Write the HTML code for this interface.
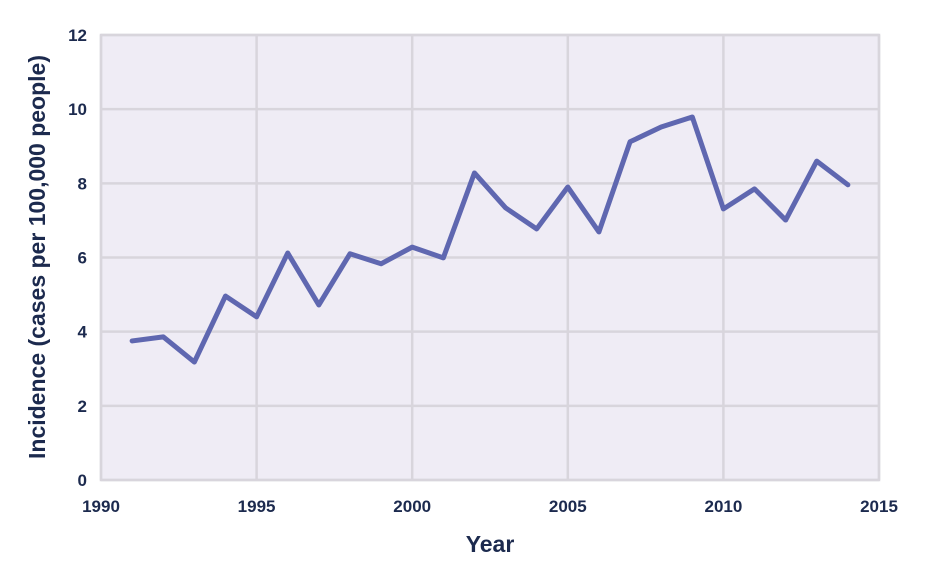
<!DOCTYPE html>
<html><head><meta charset="utf-8"><style>
body{margin:0;background:#fff;}
svg text{font-family:"Liberation Sans",sans-serif;font-weight:bold;fill:#1c2a4e;}
</style></head><body>
<svg id="chart" width="928" height="580" viewBox="0 0 928 580" xmlns="http://www.w3.org/2000/svg">
<rect x="101" y="35" width="778" height="445" fill="#efecf5" stroke="#d8d5dc" stroke-width="2.5"/>
<g id="grid"></g>
<g id="ticks"></g>
<path id="line" fill="none" stroke="#5f67b0" stroke-width="5" stroke-linejoin="round" stroke-linecap="round"/>
<text x="490" y="552" font-size="23" text-anchor="middle">Year</text>
<text transform="translate(45,257) rotate(-90)" font-size="23" text-anchor="middle">Incidence  (cases per 100,000 people)</text>
</svg>
<script>
const years=[1991,1992,1993,1994,1995,1996,1997,1998,1999,2000,2001,2002,2003,2004,2005,2006,2007,2008,2009,2010,2011,2012,2013,2014];
const values=[3.75,3.86,3.18,4.96,4.40,6.12,4.72,6.10,5.83,6.28,5.99,8.28,7.34,6.77,7.90,6.69,9.12,9.52,9.79,7.31,7.85,7.01,8.60,7.96];
const xTicks=[1990,1995,2000,2005,2010,2015];
const yTicks=[0,2,4,6,8,10,12];
const NS="http://www.w3.org/2000/svg";
const X=v=>101+(v-1990)*(778/25);
const Y=v=>480-v*(445/12);
const grid=document.getElementById('grid'),ticks=document.getElementById('ticks');
function mk(tag,attrs,parent){const e=document.createElementNS(NS,tag);for(const k in attrs)e.setAttribute(k,attrs[k]);parent.appendChild(e);return e;}
yTicks.forEach(t=>{
 const l=mk('line',{x1:101,x2:879,y1:Y(t),y2:Y(t),stroke:'#d8d5dc','stroke-width':2.5},grid);
 
 
 const tx=mk('text',{x:87,y:Y(t)+6,'font-size':17,'text-anchor':'end'},ticks);
 tx.textContent=t;
 
 
});
xTicks.forEach(t=>{
 const l=mk('line',{x1:X(t),x2:X(t),y1:35,y2:480,stroke:'#d8d5dc','stroke-width':2.5},grid);
 
 
 const tx=mk('text',{x:X(t),y:512,'font-size':17,'text-anchor':'middle'},ticks);
 tx.textContent=t;
 
 
});
document.getElementById('line').setAttribute('d',years.map((y,i)=>(i?'L':'M')+X(y)+','+Y(values[i])).join(''));
</script>
</body></html>
